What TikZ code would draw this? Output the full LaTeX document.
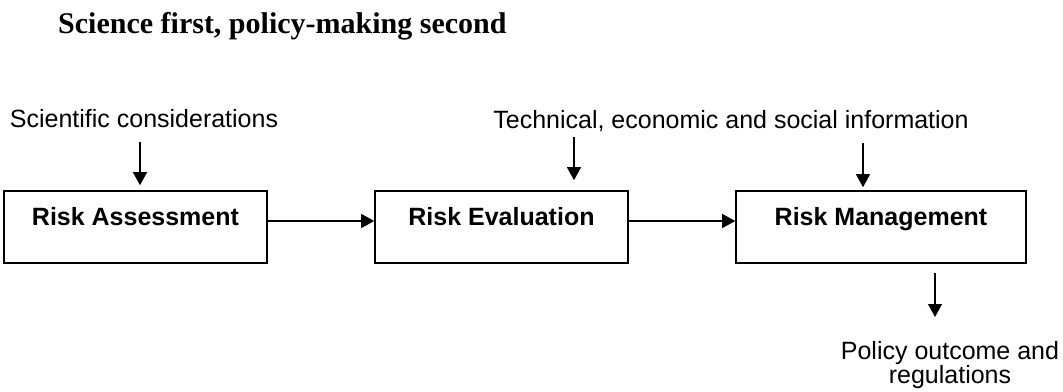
\documentclass[tikz,border=0pt]{standalone}
\usepackage{fontspec}
\setmainfont{Liberation Sans}
\newfontfamily\titlefont{Liberation Serif}
\usetikzlibrary{arrows.meta}
\begin{document}
\begin{tikzpicture}[x=1pt,y=-1pt,
  stagebox/.style={draw,line width=1.6pt,minimum width=#1,minimum height=72pt,inner sep=0pt,
    text height=18pt,text depth=22pt,font=\fontsize{25}{30}\selectfont\bfseries},
  lbl/.style={inner sep=0pt,anchor=base,font=\fontsize{25}{30}\selectfont},
  arr/.style={-{Triangle[width=14pt,length=13pt]},line width=1.3pt}]
\useasboundingbox (0,0) rectangle (1063,391);

\node[inner sep=0pt,anchor=base west,font=\titlefont\fontsize{30}{36}\selectfont\bfseries] (title) at (58,33) {Science first, policy-making second};

\node[stagebox=263pt] (a) at (135.5,227) {Risk Assessment};
\node[stagebox=253pt] (b) at (501.5,227) {Risk Evaluation};
\node[stagebox=290pt] (c) at (881,227) {Risk Management};

\node[lbl] (sci) at (144,127) {Scientific considerations};
\node[lbl] (tech) at (731,128) {Technical, economic and social information};
\node[inner sep=0pt,anchor=north,align=center,font=\fontsize{25}{23}\selectfont] (pol) at (950,341) {Policy outcome and\\regulations};

\coordinate (s1) at (140,142);
\coordinate (s2) at (574,137);
\coordinate (s3) at (863,143);
\coordinate (e) at (935,317);

\draw[arr,shorten >=5pt] (s1) -- (s1 |- a.north);
\draw[arr,shorten >=10pt] (s2) -- (s2 |- b.north);
\draw[arr,shorten >=3pt] (s3) -- (s3 |- c.north);
\draw[arr] ([yshift=6pt]a.east) -- ([yshift=6pt]b.west);
\draw[arr] ([yshift=6pt]b.east) -- ([yshift=6pt]c.west);
\draw[arr,shorten <=9pt] (e |- c.south) -- (e);
\end{tikzpicture}
\end{document}
